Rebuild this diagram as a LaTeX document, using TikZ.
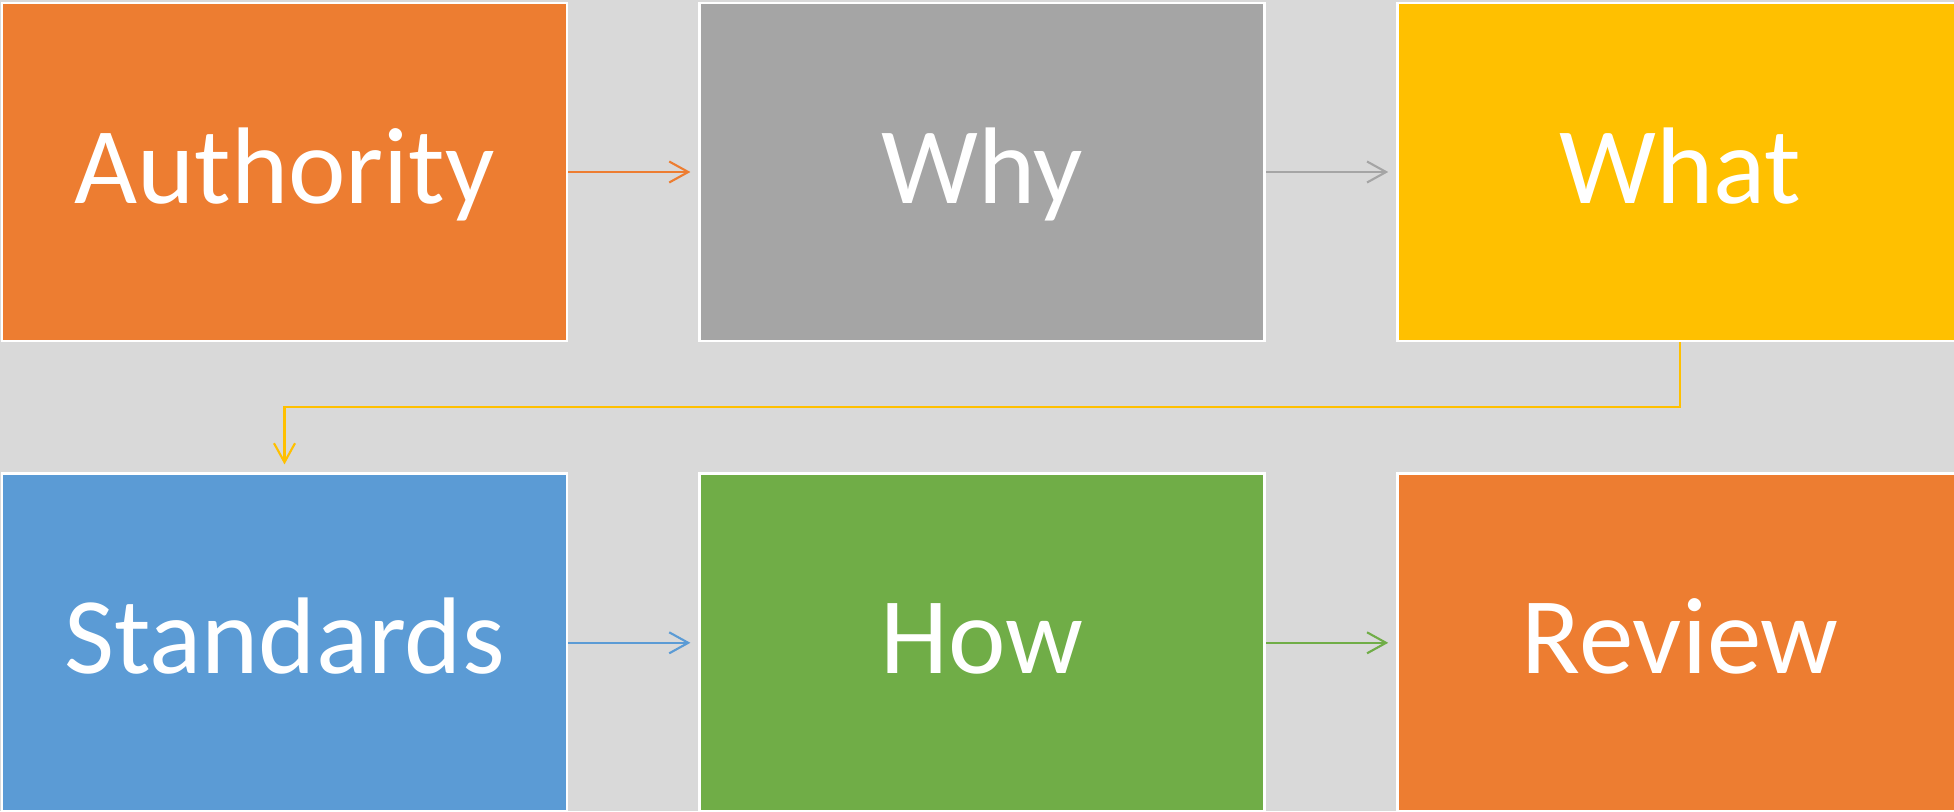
\documentclass[tikz,border=0pt]{standalone}
\usepackage{fontspec}
\setmainfont{Carlito}
\usepackage{tikz}
\usetikzlibrary{arrows.meta,positioning}
\definecolor{orangeC}{HTML}{ED7D31}
\definecolor{greyC}{HTML}{A5A5A5}
\definecolor{yellowC}{HTML}{FFC000}
\definecolor{blueC}{HTML}{5B9BD5}
\definecolor{greenC}{HTML}{70AD47}
\definecolor{backC}{HTML}{D9D9D9}
\tikzset{
  every picture/.style={line join=miter, >={Straight Barb[length=1.9mm,width=2.1mm]}},
  box/.style={draw=white, line width=0.8pt, minimum width=5.65cm, minimum height=3.38cm,
    inner sep=0pt, text=white, font=\fontsize{31}{37}\selectfont,
    text height=0.70cm, text depth=0.08cm},
  flow/.style={->, line width=0.6pt, shorten >=0.08cm},
}
\begin{document}
\begin{tikzpicture}
\useasboundingbox[fill=backC](0,0) rectangle (19.54,-8.11);
\clip(0,0) rectangle (19.54,-8.11);
% top row
\node[box, fill=orangeC](auth) at (2.845,-1.72) {Authority};
\node[box, fill=greyC, right=1.3cm of auth](why) {Why};
\node[box, fill=yellowC, right=1.3cm of why](what) {What};
% bottom row
\node[box, fill=blueC, below=1.3cm of auth](stds) {Standards};
\node[box, fill=greenC, right=1.3cm of stds](how) {How};
\node[box, fill=orangeC, right=1.3cm of how](review) {Review};
% connectors
\draw[flow, orangeC](auth)--(why);
\draw[flow, greyC](why)--(what);
\draw[flow, yellowC](what.south)--++(0,-0.65)-|(stds.north);
\draw[flow, blueC](stds)--(how);
\draw[flow, greenC](how)--(review);
\end{tikzpicture}
\end{document}
